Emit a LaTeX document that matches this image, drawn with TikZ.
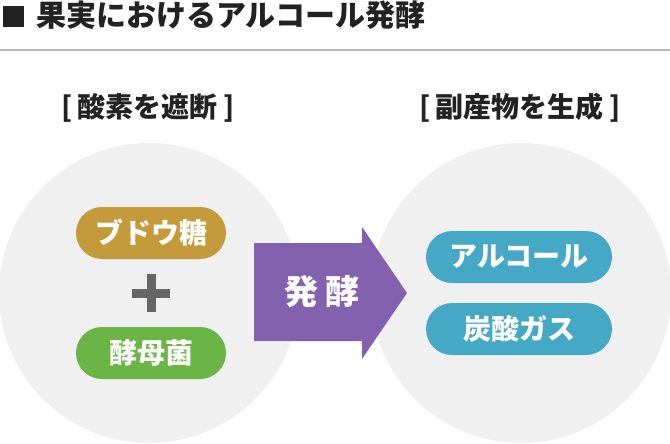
\documentclass[tikz,border=0pt]{standalone}
\usepackage{fontspec}
\setmainfont{Noto Sans CJK JP}
\usetikzlibrary{shapes.misc,calc}
\definecolor{bgcirc}{HTML}{F0F0F0}
\definecolor{gold}{HTML}{C49A3A}
\definecolor{leafgreen}{HTML}{6AB545}
\definecolor{teal}{HTML}{45A9C6}
\definecolor{violet}{HTML}{8461AE}
\definecolor{plusgray}{HTML}{666666}
\definecolor{rulegray}{HTML}{B8B8B8}
\definecolor{ink}{HTML}{222222}
\begin{document}
\begin{tikzpicture}[x=1pt,y=-1pt,
  pill/.style={rounded rectangle, minimum height=52pt, text=white, inner sep=0pt,
    font=\bfseries\fontsize{28}{30}\selectfont},
  sectlabel/.style={text=ink, inner sep=0pt, font=\bfseries\fontsize{28}{32}\selectfont},
  circ/.style={circle, fill=bgcirc, minimum size=300pt, inner sep=0pt}]
\useasboundingbox (0,0) rectangle (670,444);
% title
\fill[ink] (3,6) rectangle (24,27);
\node[anchor=west, inner sep=0pt, text=ink, font=\bfseries\fontsize{30}{32}\selectfont] (title) at (36,15.5) {果実におけるアルコール発酵};
\draw[rulegray, line width=2.5pt] (0,50) -- (670,50);
% labels
\node[sectlabel] (lab1) at (148,108) {[\hspace{0.2em}酸素を遮断\hspace{0.2em}]};
\node[sectlabel] (lab2) at (520,108) {[\hspace{0.2em}副産物を生成\hspace{0.2em}]};
% circles
\node[circ] (c1) at (149,293) {};
\node[circ] (c2) at (521,293) {};
% arrow
\fill[violet] (254,243) -- (362,243) -- (362,227) -- (407,293) -- (362,359) -- (362,341) -- (254,341) -- cycle;
\node[text=white, inner sep=0pt, font=\bfseries\fontsize{34}{36}\selectfont] (ferm) at (322,292) {発 酵};
% pills
\node[pill, fill=gold, minimum width=150pt] (grape) at (151,233) {ブドウ糖};
\node[pill, fill=leafgreen, minimum width=150pt] (yeast) at (151,353) {酵母菌};
\node[pill, fill=teal, minimum width=186pt] (alc) at (519,257) {アルコール};
\node[pill, fill=teal, minimum width=186pt] (co2) at (519,329) {炭酸ガス};
% plus
\node[inner sep=0pt] (plus) at (151,293) {};
\fill[plusgray] ($(plus)+(-19,-4.5)$) rectangle ($(plus)+(19,4.5)$);
\fill[plusgray] ($(plus)+(-4.5,-19)$) rectangle ($(plus)+(4.5,19)$);
\end{tikzpicture}
\end{document}
